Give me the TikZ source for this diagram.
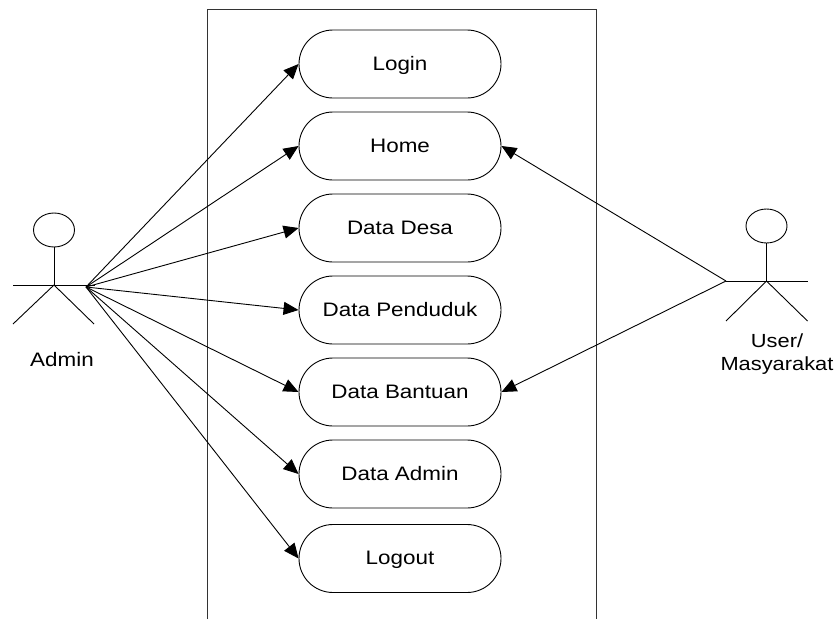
\documentclass[tikz,border=0pt]{standalone}
\usepackage{fontspec}
\setmainfont[FakeStretch=1.15]{Liberation Sans}
\usetikzlibrary{arrows.meta,shapes.geometric,shapes.misc}
\tikzset{
  uc/.style={draw=black,line width=0.9pt,rounded rectangle,minimum width=202pt,minimum height=68pt,inner sep=0pt,font=\fontsize{19.5}{23}\selectfont,text=black,fill=white,text height=15pt,text depth=3pt},
  assoc/.style={draw=black,line width=0.9pt,-{Triangle[length=15pt,width=13pt]},shorten >=0pt},
  stick/.style={draw=black,line width=0.9pt},
  head/.style={draw=black,line width=0.9pt,ellipse,minimum width=41pt,minimum height=34pt,inner sep=0pt},
  lab/.style={font=\fontsize{19.5}{23.5}\selectfont,align=center,inner sep=0pt,text=black},
  sys/.style={draw=black!80,line width=1.1pt}
}
\begin{document}
\begin{tikzpicture}[x=1pt,y=-1pt]
\useasboundingbox (0,0) rectangle (835,619);
% system boundary
\coordinate (sysbl) at (207.5,619);
\coordinate (systl) at (207.5,9.5);
\coordinate (systr) at (596.5,9.5);
\coordinate (sysbr) at (596.5,619);
\draw[sys] (sysbl) -- (systl) -- (systr) -- (sysbr);
% use cases
\node[uc] (login) at (400,64) {Login};
\node[uc] (home) at (400,146) {Home};
\node[uc] (desa) at (400,228) {Data Desa};
\node[uc] (penduduk) at (400,310) {Data Penduduk};
\node[uc] (bantuan) at (400,392) {Data Bantuan};
\node[uc] (dadmin) at (400,474) {Data Admin};
\node[uc] (logout) at (400,558.5) {Logout};
% admin actor
\node[head] (ahead) at (54,230) {};
\coordinate (ahip) at (54,285);
\coordinate (aarml) at (13,285);
\coordinate (aarmr) at (95,285);
\coordinate (alegl) at (13,324);
\coordinate (alegr) at (94,324);
\draw[stick] (ahead.south) -- (ahip);
\draw[stick] (aarml) -- (aarmr);
\draw[stick] (alegl) -- (ahip) -- (alegr);
\node[lab] (adminlabel) at (62,359.5) {Admin};
% user actor
\node[head] (uhead) at (766.5,226) {};
\coordinate (uhip) at (766.5,281);
\coordinate (uarml) at (726,281);
\coordinate (uarmr) at (807.5,281);
\coordinate (ulegl) at (726,321);
\coordinate (ulegr) at (807.5,321);
\draw[stick] (uhead.south) -- (uhip);
\draw[stick] (uarml) -- (uarmr);
\draw[stick] (ulegl) -- (uhip) -- (ulegr);
\node[lab,font=\fontsize{19}{23.5}\selectfont] (userlabel) at (777,354) {User/\\Masyarakat};
% connectors
\coordinate (afan) at (86,287);
\foreach \t in {login,home,desa,penduduk,bantuan,dadmin,logout}
  \draw[assoc] (afan) -- (\t.west);
\draw[assoc] (uarml) -- (home.east);
\draw[assoc] (uarml) -- (bantuan.east);
\end{tikzpicture}
\end{document}
